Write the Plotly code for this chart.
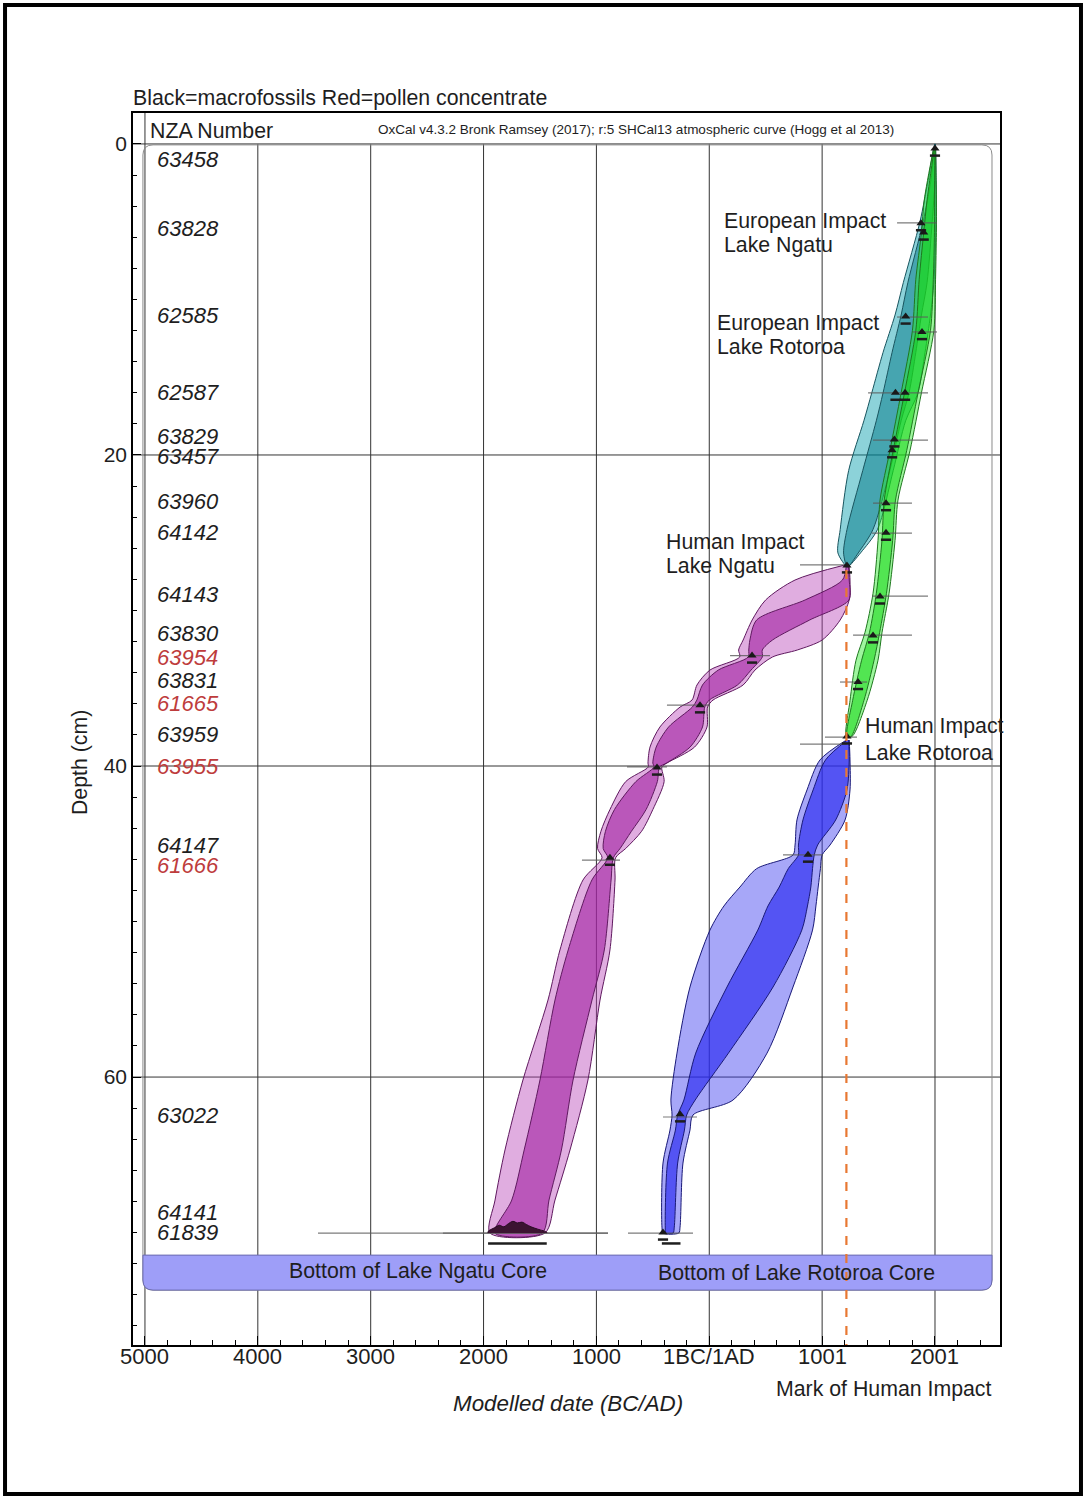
import plotly.graph_objects as go

FONT = "Liberation Sans, Arial, sans-serif"
INK = "#1e1e1e"
TXT = 21.3

# ---- axes -------------------------------------------------------------
X_RANGE = [-5106, 2576]          # calendar year (astronomical)
Y_RANGE = [77.23, -1.99]         # depth (cm), reversed
X_TICKS = [-5000, -4000, -3000, -2000, -1000, 0, 1000, 2000]
X_TICK_TEXT = ["5000", "4000", "3000", "2000", "1000", "1BC/1AD", "1001", "2001"]
Y_TICKS = [0, 20, 40, 60]

# ---- NZA sample numbers (left column) --------------------------------
NZA_LABELS = ["63458", "63828", "62585", "62587", "63829", "63457", "63960",
              "64142", "64143", "63830", "63954", "63831", "61665", "63959",
              "63955", "64147", "61666", "63022", "64141", "61839"]
NZA_DEPTHS = [1.0, 5.45, 11.0, 16.0, 18.8, 20.1, 23.0, 25.0, 29.0, 31.5,
              33.0, 34.5, 36.0, 38.0, 40.05, 45.1, 46.4, 62.5, 68.7, 70.0]
NZA_POLLEN = [False, False, False, False, False, False, False, False, False,
              False, True, False, True, False, True, False, True, False,
              False, False]

# ---- modelled age-depth envelopes (95% outer, 68% inner) ---------------
# Lake Ngatu, European-era section
NGATU_UP_DEPTH = [0.0, 2.3, 5.0, 8.9, 11.0, 13.4, 16.0, 17.8, 21.0, 24.8, 26.3, 27.2]
NGATU_UP_OUT_LO = [2000, 1940, 1867, 1720, 1646, 1540, 1440, 1370, 1235, 1160, 1140, 1220]
NGATU_UP_OUT_HI = [2000, 2010, 2010, 1990, 1960, 1912, 1849, 1740, 1630, 1490, 1340, 1230]
NGATU_UP_IN_LO = [2000, 1965, 1895, 1760, 1700, 1620, 1540, 1480, 1360, 1220, 1190, 1220]
NGATU_UP_IN_HI = [2000, 2000, 1975, 1930, 1880, 1830, 1770, 1700, 1600, 1450, 1320, 1230]

# Lake Rotoroa, European-era section
ROTOROA_UP_DEPTH = [0.2, 3.6, 5.7, 8.7, 12.0, 16.0, 19.7, 22.9, 25.5, 28.9, 31.4, 33.2, 35.8, 38.1]
ROTOROA_UP_OUT_LO = [1990, 1905, 1880, 1830, 1800, 1700, 1601, 1513, 1495, 1451, 1380, 1300, 1247, 1215]
ROTOROA_UP_OUT_HI = [2005, 2012, 2012, 2005, 1990, 1880, 1779, 1672, 1646, 1593, 1531, 1495, 1398, 1265]
ROTOROA_UP_IN_LO = [1995, 1930, 1900, 1860, 1830, 1730, 1630, 1550, 1530, 1480, 1420, 1350, 1270, 1220]
ROTOROA_UP_IN_HI = [2000, 1995, 1995, 1985, 1960, 1850, 1750, 1650, 1625, 1570, 1510, 1460, 1370, 1255]

# Lake Ngatu, pre-European section
NGATU_LOW_DEPTH = [27.07, 28.04, 29.32, 30.61, 31.90, 32.54, 32.99, 33.83, 34.79, 35.76,
                   36.21, 37.49, 38.78, 39.81, 40.06, 41.0, 42.8, 44.2, 45.3, 45.9,
                   47.33, 51.83, 55.05, 60.19, 64.69, 67.91, 70.03]
NGATU_LOW_OUT_LO = [1203, 760, 500, 380, 300, 260, 270, 6, -109, -153,
                    -259, -437, -525, -543, -540, -740, -880, -960, -990, -950,
                    -1119, -1323, -1429, -1651, -1810, -1898, -1943]
NGATU_LOW_OUT_HI = [1238, 1247, 1240, 1160, 1000, 780, 560, 405, 300, 33,
                    -15, -20, -130, -375, -420, -400, -500, -600, -740, -830,
                    -835, -880, -968, -1075, -1234, -1367, -1456]
NGATU_LOW_IN_LO = [1215, 1180, 850, 420, 360, 350, 345, 80, -60, -110,
                   -150, -360, -470, -500, -490, -650, -840, -920, -940, -900,
                   -1040, -1250, -1367, -1500, -1640, -1750, -1900]
NGATU_LOW_IN_HI = [1232, 1240, 1238, 890, 560, 470, 470, 370, 250, 0,
                   -40, -60, -170, -380, -440, -460, -560, -690, -790, -850,
                   -870, -930, -1039, -1207, -1310, -1420, -1480]

# Lake Rotoroa, pre-European section
ROTOROA_LOW_DEPTH = [38.33, 39.61, 41.54, 43.47, 45.08, 45.72, 46.6, 47.78, 49.0, 50.55,
                     54.21, 58.46, 61.48, 62.44, 63.41, 65.53, 69.65, 70.03]
ROTOROA_LOW_OUT_LO = [1215, 981, 866, 777, 760, 742, 420, 272, 130, 6,
                      -171, -286, -340, -330, -348, -410, -419, -410]
ROTOROA_LOW_OUT_HI = [1240, 1247, 1247, 1203, 1070, 1000, 985, 965, 945, 915,
                      742, 512, 210, -144, -171, -233, -259, -270]
ROTOROA_LOW_IN_LO = [1222, 1030, 920, 830, 790, 790, 700, 620, 520, 430,
                     157, -120, -225, -280, -300, -370, -390, -385]
ROTOROA_LOW_IN_HI = [1235, 1240, 1220, 1120, 960, 930, 915, 900, 870, 820,
                     565, 170, -125, -200, -220, -280, -310, -320]

# ---- dated samples: modelled position and unmodelled calibrated range ---
SAMPLE_DEPTHS = [0.3, 5.1, 5.7, 11.1, 12.1, 16.0, 16.0, 19.0, 19.7, 23.1, 25.0,
                 29.1, 31.6, 34.6, 38.1, 27.1, 32.9, 36.1, 40.1, 45.9, 45.7,
                 62.4, 70.0]
SAMPLE_YEARS = [2000, 1876, 1900, 1740, 1885, 1650, 1735, 1640, 1620, 1566, 1566,
                1513, 1451, 1318, 1220, 1220, 379, -82, -463, -880, 875,
                -259, -410]

RANGE_DEPTHS = [5.08, 11.13, 12.09, 16.01, 19.04, 23.09, 25.02, 27.07, 29.07,
                31.58, 34.6, 38.14, 38.59, 32.9, 36.08, 40.06, 46.05, 45.72,
                62.57, 70.03, 70.03, 70.03]
RANGE_FROM = [1664, 1664, 1805, 1407, 1451, 1451, 1442, 804, 1442,
              1274, 1158, 1025, 804, 184, -375, -729, -1128, 653,
              -410, -3467, -2360, -720]
RANGE_TO = [2018, 1938, 2018, 1938, 1938, 1796, 1796, 1220, 1938,
            1796, 1398, 1309, 1220, 538, 6, -375, -791, 1008,
            -109, -897, -897, -144]

# modelled distribution of the basal Lake Ngatu date
NGATU_BASE_YEARS = [-1960, -1900, -1860, -1820, -1780, -1740, -1700, -1660, -1620, -1580, -1520, -1440]
NGATU_BASE_HEIGHT = [0.1, 0.35, 0.5, 0.4, 0.6, 0.75, 0.65, 0.7, 0.55, 0.4, 0.25, 0.05]
BASE_DEPTH = 70.03

HUMAN_IMPACT_YEAR = 1215
HUMAN_IMPACT_TOP = 27.4

# sequence box and core-bottom band
BOX_LEFT, BOX_RIGHT, BOX_TOP, BOX_BOTTOM = -5018, 2505, 0.06, 73.7
CORE_BOTTOM_TOP = 71.45

fig = go.Figure()


def add_band(depth, lo, hi, fill, edge):
    fig.add_trace(go.Scatter(
        x=list(lo) + list(hi)[::-1],
        y=list(depth) + list(depth)[::-1],
        fill="toself", fillcolor=fill,
        line=dict(color=edge, width=1, shape="spline", smoothing=0.8),
        mode="lines", hoverinfo="skip", showlegend=False))


TEAL_EDGE = "rgb(25,85,95)"
GREEN_EDGE = "rgb(30,120,30)"
MAG_EDGE = "rgb(95,25,95)"
BLUE_EDGE = "rgb(25,25,120)"

add_band(NGATU_UP_DEPTH, NGATU_UP_OUT_LO, NGATU_UP_OUT_HI, "rgba(0,155,170,0.45)", TEAL_EDGE)
add_band(NGATU_UP_DEPTH, NGATU_UP_IN_LO, NGATU_UP_IN_HI, "rgba(0,120,135,0.5)", TEAL_EDGE)
add_band(ROTOROA_UP_DEPTH, ROTOROA_UP_OUT_LO, ROTOROA_UP_OUT_HI, "rgba(40,235,40,0.45)", GREEN_EDGE)
add_band(ROTOROA_UP_DEPTH, ROTOROA_UP_IN_LO, ROTOROA_UP_IN_HI, "rgba(20,215,20,0.55)", GREEN_EDGE)
add_band(NGATU_LOW_DEPTH, NGATU_LOW_OUT_LO, NGATU_LOW_OUT_HI, "rgba(180,60,180,0.42)", MAG_EDGE)
add_band(NGATU_LOW_DEPTH, NGATU_LOW_IN_LO, NGATU_LOW_IN_HI, "rgba(160,30,160,0.6)", MAG_EDGE)
add_band(ROTOROA_LOW_DEPTH, ROTOROA_LOW_OUT_LO, ROTOROA_LOW_OUT_HI, "rgba(60,60,240,0.45)", BLUE_EDGE)
add_band(ROTOROA_LOW_DEPTH, ROTOROA_LOW_IN_LO, ROTOROA_LOW_IN_HI, "rgba(40,40,240,0.65)", BLUE_EDGE)

# unmodelled calibrated ranges (thin grey lines)
rx, ry = [], []
for d, a, b in zip(RANGE_DEPTHS, RANGE_FROM, RANGE_TO):
    rx += [a, b, None]
    ry += [d, d, None]
fig.add_trace(go.Scatter(x=rx, y=ry, mode="lines",
                         line=dict(color="rgba(90,90,90,0.8)", width=1.2),
                         hoverinfo="skip", showlegend=False))

# basal distribution
fig.add_trace(go.Scatter(
    x=[NGATU_BASE_YEARS[0]] + NGATU_BASE_YEARS + [NGATU_BASE_YEARS[-1]],
    y=[BASE_DEPTH] + [BASE_DEPTH - h for h in NGATU_BASE_HEIGHT] + [BASE_DEPTH],
    fill="toself", fillcolor="rgb(60,20,50)", mode="lines",
    line=dict(color="rgb(40,10,35)", width=1, shape="spline"),
    hoverinfo="skip", showlegend=False))

# modelled sample glyphs with their range bars
bx, by = [], []
for d, y in zip(SAMPLE_DEPTHS, SAMPLE_YEARS):
    bx += [y - 45, y + 45, None]
    by += [d + 0.45, d + 0.45, None]
bx += [-1960, -1440, None, -420, -255, None]
by += [70.7, 70.7, None, 70.7, 70.7, None]
fig.add_trace(go.Scatter(x=bx, y=by, mode="lines",
                         line=dict(color=INK, width=2.5),
                         hoverinfo="skip", showlegend=False))
fig.add_trace(go.Scatter(x=SAMPLE_YEARS, y=SAMPLE_DEPTHS, mode="markers",
                         marker=dict(symbol="triangle-up", size=8, color="rgb(25,25,25)"),
                         hoverinfo="skip", showlegend=False))

# ---- shapes: grid, sequence box, core-bottom band, human impact mark ---
shapes = []
for t in X_TICKS:
    shapes.append(dict(type="line", xref="x", yref="y", layer="below",
                       x0=t, x1=t, y0=Y_RANGE[1] if t == X_TICKS[0] else 0, y1=Y_RANGE[0],
                       line=dict(color="#333", width=1)))
for t in Y_TICKS:
    shapes.append(dict(type="line", xref="x", yref="y", layer="below",
                       x0=X_RANGE[0], x1=X_RANGE[1], y0=t, y1=t,
                       line=dict(color="#333", width=1)))

cx, cy = 90, 0.65
L, R, T, B = BOX_LEFT, BOX_RIGHT, BOX_TOP, BOX_BOTTOM
box_path = (f"M {L+cx},{T} L {R-cx},{T} Q {R},{T} {R},{T+cy} L {R},{B-cy} "
            f"Q {R},{B} {R-cx},{B} L {L+cx},{B} Q {L},{B} {L},{B-cy} "
            f"L {L},{T+cy} Q {L},{T} {L+cx},{T} Z")
shapes.append(dict(type="path", xref="x", yref="y", layer="below", path=box_path,
                   line=dict(color="#8a8a8a", width=1)))
CT = CORE_BOTTOM_TOP
band_path = (f"M {L},{CT} L {R},{CT} L {R},{B-cy} Q {R},{B} {R-cx},{B} "
             f"L {L+cx},{B} Q {L},{B} {L},{B-cy} Z")
shapes.append(dict(type="path", xref="x", yref="y", layer="below", path=band_path,
                   fillcolor="rgb(158,158,248)", line=dict(color="#6a6ab0", width=1)))

shapes.append(dict(type="line", xref="x", yref="y", layer="above",
                   x0=HUMAN_IMPACT_YEAR, x1=HUMAN_IMPACT_YEAR,
                   y0=HUMAN_IMPACT_TOP, y1=Y_RANGE[0],
                   line=dict(color="rgb(232,120,50)", width=2.2, dash="dash")))

# page border
shapes.append(dict(type="rect", xref="paper", yref="paper",
                   x0=-0.1476, x1=1.0934, y0=-0.1209, y1=1.0877,
                   line=dict(color="black", width=4)))

# ---- annotations --------------------------------------------------------
ann = []
for lab, d, red in zip(NZA_LABELS, NZA_DEPTHS, NZA_POLLEN):
    ann.append(dict(x=-4911, y=d, xref="x", yref="y", text=f"<i>{lab}</i>",
                    showarrow=False, xanchor="left", yanchor="middle",
                    font=dict(family=FONT, size=22, color="rgb(190,60,60)" if red else INK)))

# x tick labels, set just under the axis line
for t, s in zip(X_TICKS, X_TICK_TEXT):
    ann.append(dict(x=t, y=-0.0097, xref="x", yref="paper", text=s, showarrow=False,
                    xanchor="center", yanchor="middle",
                    font=dict(family=FONT, size=22, color=INK)))

in_plot = [
    ("European Impact", 113, 4.95), ("Lake Ngatu", 113, 6.50),
    ("European Impact", 51, 11.51), ("Lake Rotoroa", 51, 13.05),
    ("Human Impact", -401, 25.59), ("Lake Ngatu", -401, 27.14),
    ("Human Impact", 1362, 37.43), ("Lake Rotoroa", 1362, 39.16),
    ("NZA Number", -4973, -0.84),
]
for txt, x, y in in_plot:
    ann.append(dict(x=x, y=y, xref="x", yref="y", text=txt, showarrow=False,
                    xanchor="left", yanchor="middle",
                    font=dict(family=FONT, size=TXT, color=INK)))

ann.append(dict(x=-2581, y=72.48, xref="x", yref="y", text="Bottom of Lake Ngatu Core",
                showarrow=False, xanchor="center", yanchor="middle",
                font=dict(family=FONT, size=TXT, color=INK)))
ann.append(dict(x=777, y=72.6, xref="x", yref="y", text="Bottom of Lake Rotoroa Core",
                showarrow=False, xanchor="center", yanchor="middle",
                font=dict(family=FONT, size=TXT, color=INK)))
ann.append(dict(x=-649, y=-0.9, xref="x", yref="y",
                text="OxCal v4.3.2 Bronk Ramsey (2017); r:5 SHCal13 atmospheric curve (Hogg et al 2013)",
                showarrow=False, xanchor="center", yanchor="middle",
                font=dict(family=FONT, size=13.5, color=INK)))

ann.append(dict(x=-0.0023, y=1.0122, xref="paper", yref="paper",
                text="Black=macrofossils Red=pollen concentrate", showarrow=False,
                xanchor="left", yanchor="middle", font=dict(family=FONT, size=TXT, color=INK)))
ann.append(dict(x=-0.0611, y=0.4724, xref="paper", yref="paper", text="Depth (cm)",
                textangle=-90, showarrow=False, xanchor="center", yanchor="middle",
                font=dict(family=FONT, size=TXT, color=INK)))
ann.append(dict(x=0.5017, y=-0.0471, xref="paper", yref="paper",
                text="<i>Modelled date (BC/AD)</i>", showarrow=False,
                xanchor="center", yanchor="middle", font=dict(family=FONT, size=22.4, color=INK)))
ann.append(dict(x=0.8662, y=-0.0357, xref="paper", yref="paper",
                text="Mark of Human Impact", showarrow=False,
                xanchor="center", yanchor="middle", font=dict(family=FONT, size=TXT, color=INK)))

fig.update_layout(
    width=1086, height=1498,
    margin=dict(l=133, r=86, t=113, b=153),
    paper_bgcolor="white", plot_bgcolor="white",
    showlegend=False, shapes=shapes, annotations=ann,
    xaxis=dict(range=X_RANGE, tickmode="array", tickvals=X_TICKS, showticklabels=False,
               showgrid=False, zeroline=False, showline=True, linecolor="black",
               linewidth=1.5, mirror=True, ticks="inside", ticklen=9, tickcolor="black",
               minor=dict(tickmode="linear", tick0=-5000, dtick=200, ticks="inside",
                          ticklen=5, tickcolor="black", showgrid=False)),
    yaxis=dict(range=Y_RANGE, tickmode="array", tickvals=Y_TICKS,
               showgrid=False, zeroline=False, showline=True, linecolor="black",
               linewidth=1.5, mirror=True, ticks="inside", ticklen=8, tickcolor="black",
               tickfont=dict(family=FONT, size=21, color=INK),
               minor=dict(tickmode="linear", tick0=0, dtick=2, ticks="inside",
                          ticklen=4, tickcolor="black", showgrid=False)),
)

fig.write_html("out.html")
